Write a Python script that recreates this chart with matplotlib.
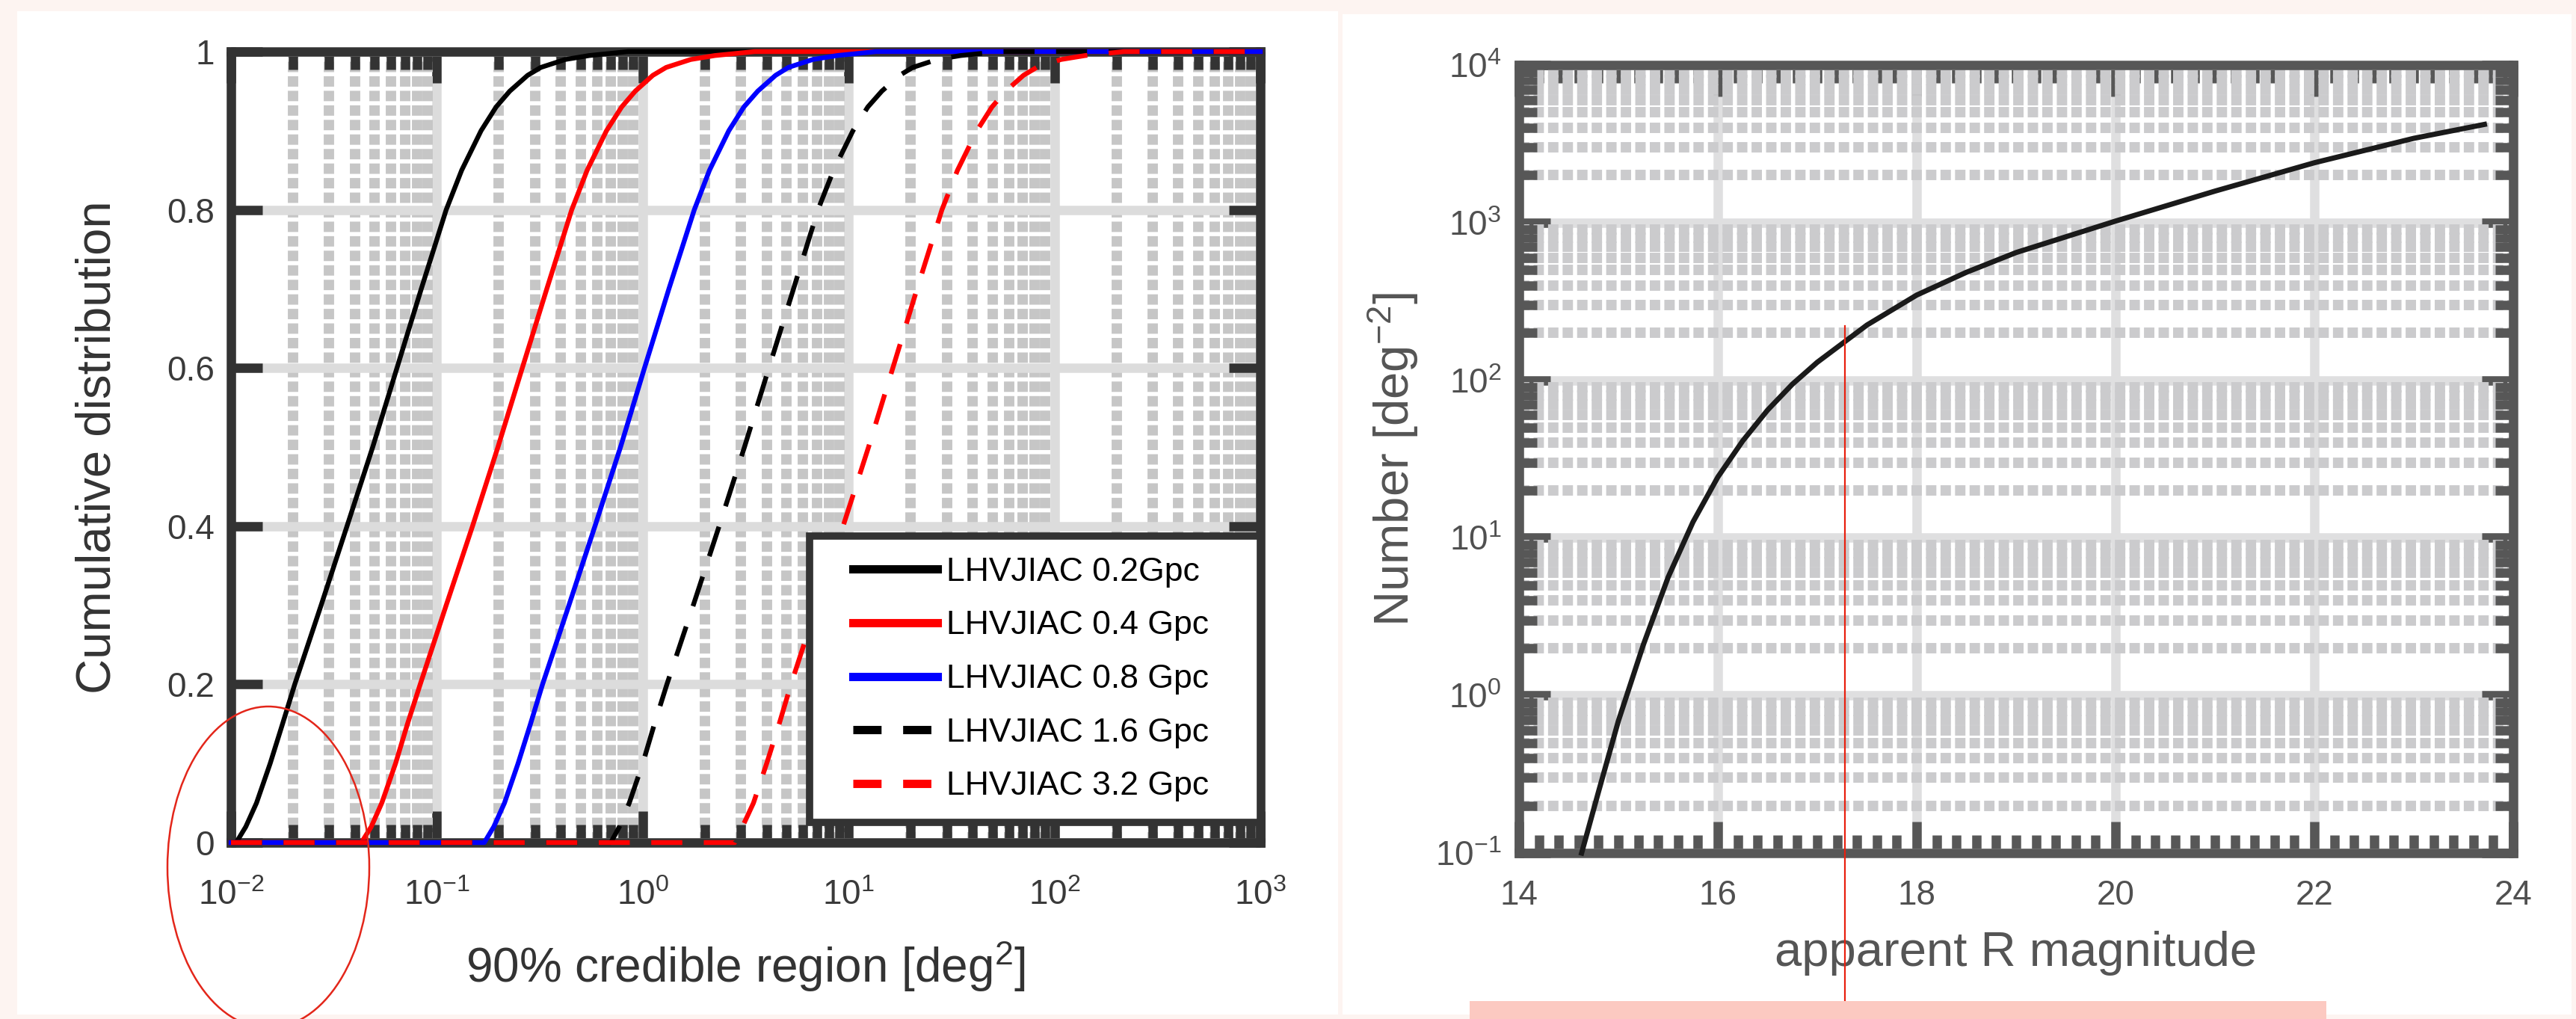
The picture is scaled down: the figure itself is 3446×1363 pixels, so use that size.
import matplotlib
matplotlib.use('Agg')
import matplotlib.pyplot as plt
from matplotlib import ticker
from matplotlib.patches import Rectangle, Ellipse
from matplotlib.lines import Line2D
from matplotlib.legend_handler import HandlerLine2D
import numpy as np

plt.rcParams['font.family'] = ['Liberation Sans', 'DejaVu Sans']
plt.rcParams['mathtext.fontset'] = 'custom'
plt.rcParams['mathtext.rm'] = 'Liberation Sans'
plt.rcParams['mathtext.it'] = 'Liberation Sans:italic'
plt.rcParams['mathtext.bf'] = 'Liberation Sans:bold'

# left panel: cumulative distribution of the 90% credible region
cdf_levels = [0, 0, 0.02, 0.05, 0.1, 0.15, 0.2, 0.3, 0.4, 0.5, 0.6, 0.7, 0.8, 0.85, 0.9,
              0.93, 0.95, 0.97, 0.98, 0.99, 0.995, 1.0, 1.0]
area_02gpc = [0.01, 0.0106, 0.0118, 0.0133, 0.0155, 0.0178, 0.0204, 0.0274, 0.0366, 0.0488, 0.064, 0.084,
              0.111, 0.132, 0.164, 0.194, 0.226, 0.276, 0.32, 0.42, 0.55, 0.85, 1000]
area_04gpc = [0.01, 0.043, 0.048, 0.054, 0.063, 0.072, 0.083, 0.111, 0.149, 0.198, 0.26, 0.342,
              0.452, 0.537, 0.667, 0.79, 0.92, 1.12, 1.3, 1.71, 2.24, 3.5, 1000]
area_08gpc = [0.01, 0.17, 0.189, 0.213, 0.248, 0.285, 0.326, 0.438, 0.586, 0.78, 1.02, 1.34,
              1.78, 2.11, 2.62, 3.1, 3.62, 4.42, 5.1, 6.7, 8.8, 13.6, 1000]
area_16gpc = [0.01, 0.70, 0.77, 0.86, 1.0, 1.14, 1.31, 1.76, 2.35, 3.12, 4.1, 5.4,
              7.1, 8.45, 10.5, 12.4, 14.5, 17.7, 20.5, 26.9, 35, 54, 1000]
area_32gpc = [0.01, 2.8, 3.05, 3.45, 4.0, 4.6, 5.25, 7.0, 9.4, 12.5, 16.4, 21.5,
              28.4, 33.8, 42, 49.7, 58, 70.7, 82, 107.5, 141, 218, 1000]
curve_labels = ['LHVJIAC 0.2Gpc', 'LHVJIAC 0.4 Gpc', 'LHVJIAC 0.8 Gpc', 'LHVJIAC 1.6 Gpc', 'LHVJIAC 3.2 Gpc']
curve_colors = ['black', 'red', 'blue', 'black', 'red']
curve_styles = ['-', '-', '-', '--', '--']

# right panel: number counts vs apparent R magnitude
mag_r = [14.63, 14.8, 15.0, 15.25, 15.5, 15.75, 16.0, 16.25, 16.5, 16.75, 17.0, 17.5, 18.0, 18.5,
         19.0, 20.0, 21.0, 22.0, 23.0, 23.71]
number_counts = [0.1, 0.245, 0.69, 2.09, 5.62, 12.6, 24.3, 41.2, 64.6, 94.4, 130, 224, 347, 484,
                 646, 1023, 1585, 2399, 3428, 4200]
marked_mag = 17.28

W, H = 3446, 1363
fig = plt.figure(figsize=(W / 100, H / 100), dpi=100)
fig.patch.set_facecolor('#fdf4f1')

# white panels of the screenshot
fig.add_artist(Rectangle((23 / W, 1 - 1357 / H), (1790 - 23) / W, (1357 - 15) / H,
                         transform=fig.transFigure, facecolor='white', edgecolor='none', zorder=0))
fig.add_artist(Rectangle((1796 / W, 1 - 1357 / H), (3440 - 1796) / W, (1357 - 19) / H,
                         transform=fig.transFigure, facecolor='white', edgecolor='none', zorder=0))

ax1 = fig.add_axes([309 / W, 1 - 1127 / H, 1377 / W, 1058 / H])
ax2 = fig.add_axes([2032 / W, 1 - 1141 / H, 1330 / W, 1054 / H])


def style_axes(ax, dark, labelcolor):
    for s in ax.spines.values():
        s.set_linewidth(9)
        s.set_color(dark)
    ax.tick_params(which='both', direction='in', top=True, right=True,
                   color=dark, width=9, labelsize=33, labelcolor=labelcolor)
    ax.tick_params(which='major', length=30)
    ax.tick_params(which='minor', length=17)
    ax.set_axisbelow(True)
    ax.set_facecolor('white')


# ---- left ----
style_axes(ax1, '#333333', '#3a3a3a')
ax1.tick_params(axis='x', pad=35)
ax1.tick_params(axis='y', pad=16)
ax1.set_xscale('log')
ax1.set_xlim(1e-2, 1e3)
ax1.set_ylim(0, 1)
ax1.xaxis.set_major_locator(ticker.LogLocator(base=10, numticks=10))
ax1.xaxis.set_minor_locator(ticker.LogLocator(base=10, subs=np.arange(2, 10), numticks=20))
ax1.xaxis.set_minor_formatter(ticker.NullFormatter())
ax1.set_yticks([0, 0.2, 0.4, 0.6, 0.8, 1.0])
ax1.yaxis.set_major_formatter(ticker.FuncFormatter(lambda v, p: f'{v:g}'))
ax1.grid(which='major', color='#dcdcdc', lw=9)
ax1.xaxis.grid(which='minor', color='#c6c6c6', lw=10, ls=(0, (1.0, 0.4)))

areas = [area_02gpc, area_04gpc, area_08gpc, area_16gpc, area_32gpc]
for xs, c, st, lab in zip(areas, curve_colors, curve_styles, curve_labels):
    ln, = ax1.plot(xs, cdf_levels, color=c, lw=4.6, label=lab, zorder=3, clip_on=False)
    if st == '--':
        ln.set_dashes([6.5, 4.5])

leg = ax1.legend(loc='lower left', bbox_to_anchor=(0.562, 0.0255, 0.438, 0.36), mode='expand',
                 borderaxespad=0, fontsize=32, handlelength=3.23, handletextpad=0.27,
                 borderpad=0.62, labelspacing=0.69, fancybox=False, framealpha=1,
                 handler_map={Line2D: HandlerLine2D(xpad=0.69)})
leg.get_frame().set_edgecolor('#333333')
leg.get_frame().set_linewidth(7)
for ln, st in zip(leg.get_lines(), curve_styles):
    ln.set_linewidth(8)
    if st == '--':
        ln.set_dashes([3.4, 2.6])

ax1.set_xlabel('90% credible region [deg$^2$]', fontsize=46, color='#333333')
ax1.set_ylabel('Cumulative distribution', fontsize=47, color='#333333')
ax1.xaxis.set_label_coords(0.5, -0.122)
ax1.yaxis.set_label_coords(-0.108, 0.5)

# ---- right ----
style_axes(ax2, '#575757', '#505050')
ax2.tick_params(axis='x', pad=25)
ax2.tick_params(axis='y', pad=17)
ax2.set_yscale('log')
ax2.set_xlim(14, 24)
ax2.set_ylim(0.1, 1e4)
ax2.set_xticks([14, 16, 18, 20, 22, 24])
ax2.xaxis.set_minor_locator(ticker.MultipleLocator(0.2))
ax2.yaxis.set_major_locator(ticker.LogLocator(base=10, numticks=10))
ax2.yaxis.set_minor_locator(ticker.LogLocator(base=10, subs=np.arange(2, 10), numticks=20))
ax2.yaxis.set_minor_formatter(ticker.NullFormatter())
ax2.grid(which='major', color='#dfdfe0', lw=9)
ax2.yaxis.grid(which='minor', color='#cbcbcd', lw=10, ls=(0, (1.0, 0.4)))
ax2.plot(mag_r, number_counts, color='#1a1a1a', lw=5, zorder=3, clip_on=False)

ax2.set_xlabel('apparent R magnitude', fontsize=47, color='#555555')
ax2.set_ylabel('Number [deg$^{-2}$]', fontsize=47, color='#555555')
ax2.xaxis.set_label_coords(0.5, -0.099)
ax2.yaxis.set_label_coords(-0.099, 0.5)

# hand-drawn annotations on the screenshot
ax2.plot([marked_mag, marked_mag], [220, 0.0115], color='#e8200f', lw=1.6, zorder=6, clip_on=False)
fig.add_artist(Rectangle((1966 / W, 0), (3112 - 1966) / W, 24 / H, transform=fig.transFigure,
                         facecolor='#fcc9c1', edgecolor='none', zorder=7))
fig.add_artist(Ellipse((359 / W, 1 - 1160 / H), 270 / W, 430 / H, transform=fig.transFigure,
                       facecolor='none', edgecolor='#e3261a', lw=1.8, zorder=7))

fig.savefig('out.png', dpi=100, facecolor=fig.get_facecolor())
